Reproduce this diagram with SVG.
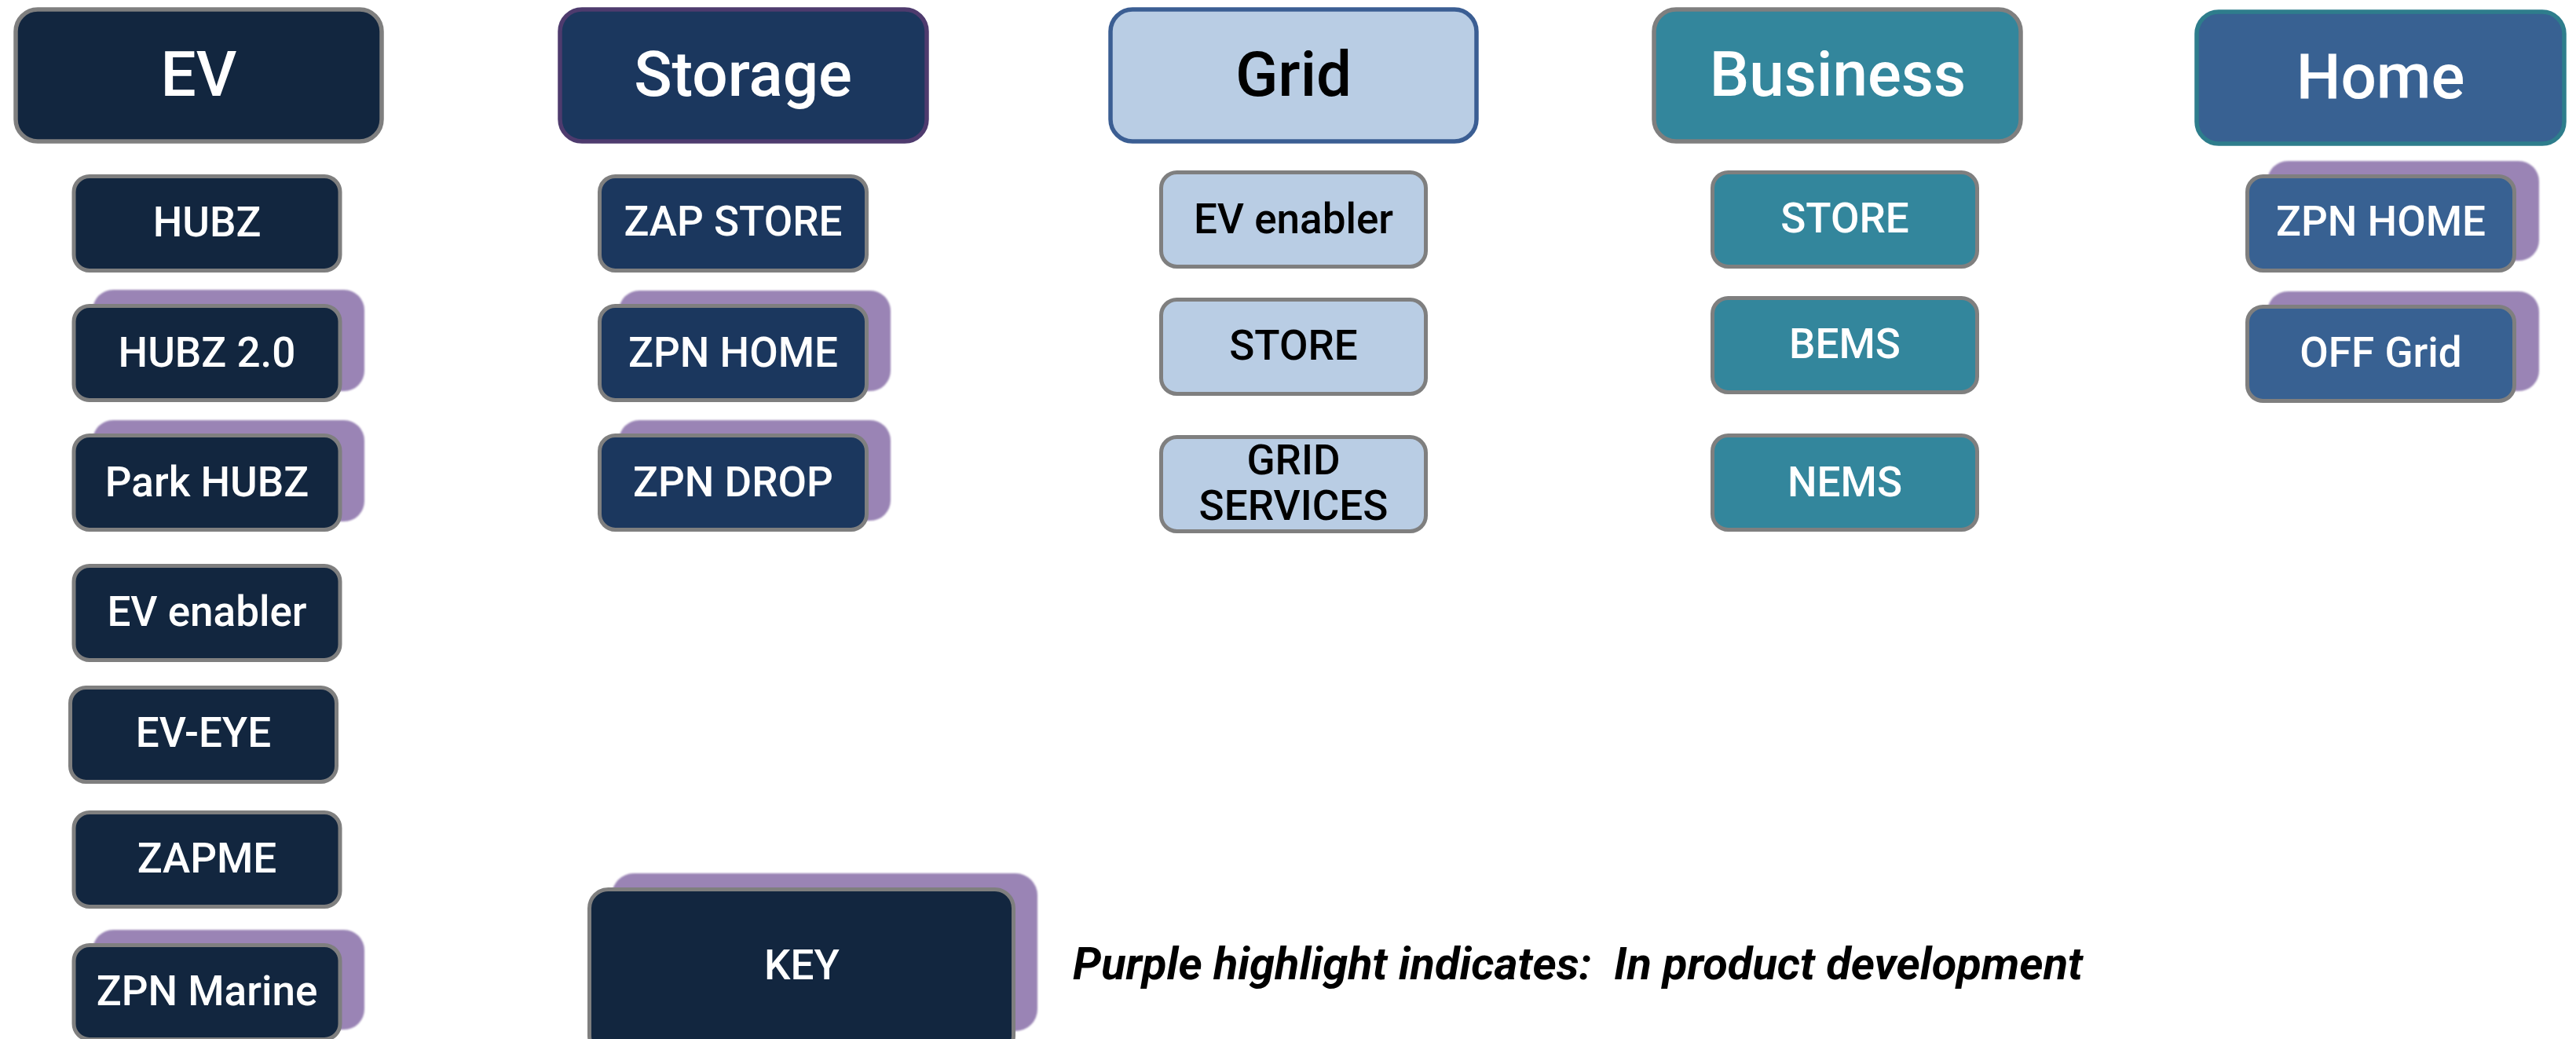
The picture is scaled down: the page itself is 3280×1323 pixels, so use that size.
<svg xmlns="http://www.w3.org/2000/svg" width="3280" height="1323" viewBox="0 0 3280 1323">
  <defs>
    <filter id="soft" x="-5%" y="-5%" width="110%" height="110%">
      <feGaussianBlur stdDeviation="1.2"/>
    </filter>
  </defs>
  <style>
    text { font-family: Roboto, "Liberation Sans", sans-serif; font-weight: 500; text-anchor: middle; }
    .hdr { font-size: 80px; }
    .lbl { font-size: 53px; }
    .light { fill: #ffffff; }
    .dark { fill: #000000; }
    .head { stroke-width: 5.5; }
    .item { stroke: #7f7f7f; stroke-width: 5; }
    .hl { fill: #9a84b5; filter: url(#soft); }
    .ev { fill: #12263f; }
    .st { fill: #1b375e; }
    .gr { fill: #b9cde4; }
    .bu { fill: #33869c; }
    .ho { fill: #386192; }
    .caption { font-size: 57px; font-weight: 700; font-style: italic; text-anchor: start; fill: #000000; white-space: pre; }
  </style>
  <rect width="3280" height="1323" fill="#ffffff"/>

  <!-- category headers -->
  <g id="hdr-ev">
    <rect class="head ev" x="20" y="12" width="466" height="168" rx="28" stroke="#7f7f7f"/>
    <text class="hdr light" x="253" y="122">EV</text>
  </g>
  <g id="hdr-storage">
    <rect class="head st" x="713" y="12" width="467" height="168" rx="28" stroke="#4e3b6e"/>
    <text class="hdr light" x="946" y="122">Storage</text>
  </g>
  <g id="hdr-grid">
    <rect class="head gr" x="1414" y="12" width="466" height="168" rx="28" stroke="#3b5e93"/>
    <text class="hdr dark" x="1647" y="122">Grid</text>
  </g>
  <g id="hdr-business">
    <rect class="head bu" x="2106" y="12" width="467" height="168" rx="28" stroke="#7f7f7f"/>
    <text class="hdr light" x="2340" y="122">Business</text>
  </g>
  <g id="hdr-home">
    <rect class="head ho" x="2797" y="15" width="468" height="168" rx="28" stroke="#2e7d8c"/>
    <text class="hdr light" x="3031" y="125">Home</text>
  </g>

  <!-- EV products -->
  <g id="ev-hubz">
    <rect class="item ev" x="94" y="224.5" width="339" height="120" rx="20"/>
    <text class="lbl light" x="263.5" y="301">HUBZ</text>
  </g>
  <g id="ev-hubz2">
    <rect class="hl" x="118" y="369" width="346" height="129" rx="26"/>
    <rect class="item ev" x="94" y="389.5" width="339" height="120" rx="20"/>
    <text class="lbl light" x="263.5" y="467">HUBZ 2.0</text>
  </g>
  <g id="ev-parkhubz">
    <rect class="hl" x="118" y="535" width="346" height="129" rx="26"/>
    <rect class="item ev" x="94" y="554.5" width="339" height="120" rx="20"/>
    <text class="lbl light" x="263.5" y="632">Park HUBZ</text>
  </g>
  <g id="ev-enabler">
    <rect class="item ev" x="94" y="720.5" width="339" height="120" rx="20"/>
    <text class="lbl light" x="263.5" y="797">EV enabler</text>
  </g>
  <g id="ev-eye">
    <rect class="item ev" x="89.5" y="875.5" width="339" height="120" rx="20"/>
    <text class="lbl light" x="259" y="951">EV-EYE</text>
  </g>
  <g id="ev-zapme">
    <rect class="item ev" x="94" y="1034.5" width="339" height="120" rx="20"/>
    <text class="lbl light" x="263.5" y="1111">ZAPME</text>
  </g>
  <g id="ev-marine">
    <rect class="hl" x="118" y="1184" width="346" height="127" rx="26"/>
    <rect class="item ev" x="94" y="1203.5" width="339" height="120" rx="20"/>
    <text class="lbl light" x="263.5" y="1280">ZPN Marine</text>
  </g>

  <!-- Storage products -->
  <g id="st-zapstore">
    <rect class="item st" x="763.5" y="224.5" width="340" height="120" rx="20"/>
    <text class="lbl light" x="933.5" y="300">ZAP STORE</text>
  </g>
  <g id="st-zpnhome">
    <rect class="hl" x="788" y="370" width="346" height="128" rx="26"/>
    <rect class="item st" x="763.5" y="389.5" width="340" height="120" rx="20"/>
    <text class="lbl light" x="933.5" y="467">ZPN HOME</text>
  </g>
  <g id="st-zpndrop">
    <rect class="hl" x="788" y="535" width="346" height="128" rx="26"/>
    <rect class="item st" x="763.5" y="554.5" width="340" height="120" rx="20"/>
    <text class="lbl light" x="933.5" y="632">ZPN DROP</text>
  </g>

  <!-- Grid products -->
  <g id="gr-enabler">
    <rect class="item gr" x="1478.5" y="219.5" width="337" height="120" rx="20"/>
    <text class="lbl dark" x="1647" y="297">EV enabler</text>
  </g>
  <g id="gr-store">
    <rect class="item gr" x="1478.5" y="381.5" width="337" height="120" rx="20"/>
    <text class="lbl dark" x="1647" y="458">STORE</text>
  </g>
  <g id="gr-services">
    <rect class="item gr" x="1478.5" y="556.5" width="337" height="120" rx="20"/>
    <text class="lbl dark" x="1647" y="604">GRID</text>
    <text class="lbl dark" x="1647" y="662">SERVICES</text>
  </g>

  <!-- Business products -->
  <g id="bu-store">
    <rect class="item bu" x="2180.5" y="219.5" width="337" height="120" rx="20"/>
    <text class="lbl light" x="2349" y="296">STORE</text>
  </g>
  <g id="bu-bems">
    <rect class="item bu" x="2180.5" y="379.5" width="337" height="120" rx="20"/>
    <text class="lbl light" x="2349" y="456">BEMS</text>
  </g>
  <g id="bu-nems">
    <rect class="item bu" x="2180.5" y="554.5" width="337" height="120" rx="20"/>
    <text class="lbl light" x="2349" y="632">NEMS</text>
  </g>

  <!-- Home products -->
  <g id="ho-zpnhome">
    <rect class="hl" x="2887" y="205" width="346" height="127" rx="26"/>
    <rect class="item ho" x="2861.5" y="224.5" width="340" height="120" rx="20"/>
    <text class="lbl light" x="3031.5" y="300">ZPN HOME</text>
  </g>
  <g id="ho-offgrid">
    <rect class="hl" x="2887" y="371" width="346" height="127" rx="26"/>
    <rect class="item ho" x="2861.5" y="390.5" width="340" height="120" rx="20"/>
    <text class="lbl light" x="3031.5" y="467">OFF Grid</text>
  </g>

  <!-- legend -->
  <g id="key">
    <rect class="hl" x="779" y="1112" width="542" height="201" rx="28"/>
    <rect class="item ev" x="750.5" y="1132.5" width="540" height="210" rx="24"/>
    <text class="lbl light" x="1021" y="1247" font-size="57">KEY</text>
  </g>
  <text class="caption" x="1366" y="1247" xml:space="preserve" textLength="1286" lengthAdjust="spacingAndGlyphs">Purple highlight indicates:  In product development</text>

  <!-- no connectors in this chart -->
  <g id="connectors"/>
</svg>
